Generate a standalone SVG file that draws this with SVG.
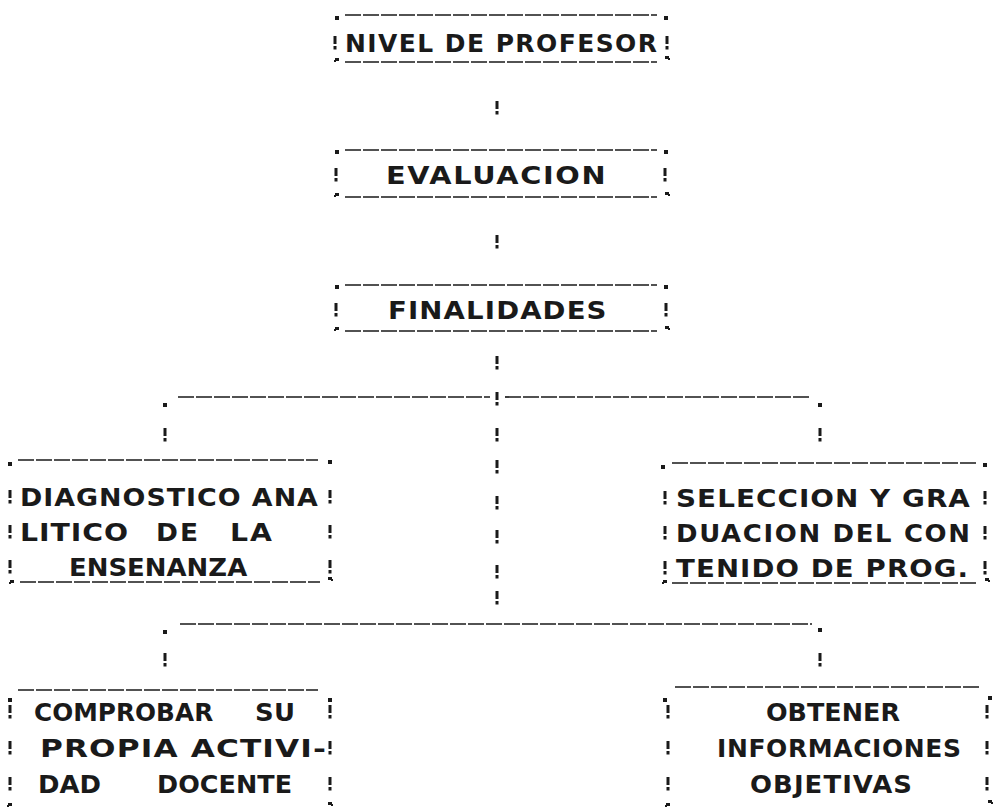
<svg xmlns="http://www.w3.org/2000/svg" width="998" height="809" viewBox="0 0 998 809">
<style>
.t{font-family:"DejaVu Sans","Liberation Sans",sans-serif;font-size:24px;font-weight:bold;fill:#1a1a1a}
.ln{stroke:#1a1a1a;stroke-width:1.7;stroke-dasharray:16 2;fill:none}
.mk{fill:#1a1a1a}
</style>
<defs>
<g id="bang" class="mk"><rect x="-1.5" y="-7" width="3" height="8"/><rect x="-1.5" y="3" width="3" height="3.5"/></g>
<g id="dot" class="mk"><rect x="-2" y="-2" width="4" height="4"/></g>
<g id="bl" class="mk"><rect x="-2" y="-2" width="4" height="3"/><rect x="-3" y="0" width="2" height="2"/></g>
<g id="br" class="mk"><rect x="-2" y="-3" width="4" height="3"/><rect x="1" y="-1" width="2" height="2"/></g>
</defs>
<rect width="998" height="809" fill="#fff"/>

<g id="connectors">
<use href="#bang" x="497" y="108"/>
<use href="#bang" x="497" y="242"/>
<use href="#bang" x="497" y="363"/>
<use href="#bang" x="497" y="399"/>
<use href="#bang" x="497" y="435"/>
<use href="#bang" x="497" y="467"/>
<use href="#bang" x="497" y="503"/>
<use href="#bang" x="497" y="537"/>
<use href="#bang" x="497" y="572"/>
<use href="#bang" x="497" y="598"/>
<line class="ln" x1="178" y1="397" x2="490" y2="397"/>
<line class="ln" x1="505" y1="397" x2="810" y2="397"/>
<use href="#dot" x="165" y="405"/>
<use href="#dot" x="820" y="405"/>
<use href="#bang" x="165" y="435"/>
<use href="#bang" x="820" y="435"/>
<line class="ln" x1="180" y1="624" x2="812" y2="624"/>
<use href="#dot" x="165" y="632"/>
<use href="#dot" x="820" y="630"/>
<use href="#bang" x="165" y="660"/>
<use href="#bang" x="820" y="660"/>
</g>

<g id="n1">
<line class="ln" x1="345" y1="15" x2="657" y2="15"/>
<line class="ln" x1="345" y1="62" x2="657" y2="62"/>
<use href="#dot" x="337" y="18"/><use href="#dot" x="666" y="18"/>
<use href="#bl" x="337" y="60"/><use href="#br" x="667" y="59"/>
<use href="#bang" x="335" y="43"/><use href="#bang" x="667" y="43"/>
<text class="t" transform="translate(345 52) scale(1.04 1)" textLength="300" lengthAdjust="spacing">NIVEL DE PROFESOR</text>
</g>

<g id="n2">
<line class="ln" x1="345" y1="150" x2="657" y2="150"/>
<line class="ln" x1="345" y1="197" x2="657" y2="197"/>
<use href="#dot" x="337" y="152"/><use href="#dot" x="666" y="152"/>
<use href="#bl" x="337" y="195"/><use href="#br" x="667" y="195"/>
<use href="#bang" x="336" y="175"/><use href="#bang" x="665" y="175"/>
<text class="t" transform="translate(386 184) scale(1.2 1)" textLength="183" lengthAdjust="spacing">EVALUACION</text>
</g>

<g id="n3">
<line class="ln" x1="345" y1="285" x2="657" y2="285"/>
<line class="ln" x1="345" y1="331" x2="657" y2="331"/>
<use href="#dot" x="337" y="287"/><use href="#dot" x="666" y="287"/>
<use href="#bl" x="337" y="329"/><use href="#br" x="667" y="329"/>
<use href="#bang" x="336" y="310"/><use href="#bang" x="666" y="310"/>
<text class="t" transform="translate(388 319) scale(1.15 1)" textLength="190" lengthAdjust="spacing">FINALIDADES</text>
</g>

<g id="n4">
<line class="ln" x1="18" y1="460" x2="318" y2="460"/>
<line class="ln" x1="20" y1="582" x2="320" y2="582"/>
<use href="#dot" x="10" y="464"/><use href="#dot" x="330" y="462"/>
<use href="#bl" x="12" y="582"/><use href="#br" x="330" y="580"/>
<use href="#bang" x="10" y="497"/><use href="#bang" x="330" y="497"/>
<use href="#bang" x="10" y="532"/><use href="#bang" x="330" y="532"/>
<use href="#bang" x="10" y="567"/><use href="#bang" x="330" y="567"/>
<text class="t" transform="translate(20 506) scale(1.12 1)" textLength="266" lengthAdjust="spacing">DIAGNOSTICO ANA</text>
<text class="t" transform="translate(20 541) scale(1.18 1)" textLength="91.5" lengthAdjust="spacing">LITICO</text>
<text class="t" transform="translate(156 541) scale(1.1 1)" textLength="38.2" lengthAdjust="spacing">DE</text>
<text class="t" transform="translate(230 541) scale(1.18 1)" textLength="35.6" lengthAdjust="spacing">LA</text>
<text class="t" transform="translate(69 576) scale(1.08 1)" textLength="165" lengthAdjust="spacing">ENSENANZA</text>
</g>

<g id="n5">
<line class="ln" x1="672" y1="463" x2="978" y2="463"/>
<line class="ln" x1="672" y1="583" x2="978" y2="583"/>
<use href="#dot" x="663" y="467"/><use href="#dot" x="985" y="465"/>
<use href="#bl" x="665" y="582"/><use href="#br" x="987" y="581"/>
<use href="#bang" x="665" y="498"/><use href="#bang" x="985" y="498"/>
<use href="#bang" x="665" y="533"/><use href="#bang" x="985" y="533"/>
<use href="#bang" x="665" y="568"/><use href="#bang" x="985" y="568"/>
<text class="t" transform="translate(676 507) scale(1.16 1)" textLength="253.4" lengthAdjust="spacing">SELECCION Y GRA</text>
<text class="t" transform="translate(676 542) scale(1.08 1)" textLength="272.2" lengthAdjust="spacing">DUACION DEL CON</text>
<text class="t" transform="translate(676 577) scale(1.15 1)" textLength="254" lengthAdjust="spacing">TENIDO DE PROG.</text>
</g>

<g id="n6">
<line class="ln" x1="18" y1="690" x2="318" y2="690"/>
<use href="#dot" x="10" y="700"/><use href="#dot" x="330" y="700"/>
<use href="#bl" x="10" y="805"/><use href="#br" x="330" y="805"/>
<use href="#bang" x="10" y="712"/><use href="#bang" x="330" y="712"/>
<use href="#bang" x="10" y="748"/><use href="#bang" x="330" y="748"/>
<use href="#bang" x="10" y="784"/><use href="#bang" x="330" y="784"/>
<text class="t" transform="translate(34 721) scale(1.03 1)" textLength="174" lengthAdjust="spacing">COMPROBAR</text>
<text class="t" transform="translate(255 721) scale(1.08 1)" textLength="37" lengthAdjust="spacing">SU</text>
<text class="t" transform="translate(40 757) scale(1.3 1)" textLength="220" lengthAdjust="spacing">PROPIA ACTIVI-</text>
<text class="t" transform="translate(38 793) scale(1.08 1)" textLength="58.4" lengthAdjust="spacing">DAD</text>
<text class="t" transform="translate(157 793) scale(1.06 1)" textLength="127.5" lengthAdjust="spacing">DOCENTE</text>
</g>

<g id="n7">
<line class="ln" x1="675" y1="687" x2="980" y2="687"/>
<use href="#dot" x="665" y="700"/><use href="#dot" x="990" y="698"/>
<use href="#bl" x="668" y="805"/><use href="#br" x="990" y="803"/>
<use href="#bang" x="668" y="712"/><use href="#bang" x="987" y="712"/>
<use href="#bang" x="668" y="748"/><use href="#bang" x="987" y="748"/>
<use href="#bang" x="668" y="784"/><use href="#bang" x="987" y="784"/>
<text class="t" transform="translate(766 721) scale(1.06 1)" textLength="126.4" lengthAdjust="spacing">OBTENER</text>
<text class="t" transform="translate(717 757) scale(1.04 1)" textLength="234.6" lengthAdjust="spacing">INFORMACIONES</text>
<text class="t" transform="translate(750 793) scale(1.08 1)" textLength="150" lengthAdjust="spacing">OBJETIVAS</text>
</g>
</svg>
